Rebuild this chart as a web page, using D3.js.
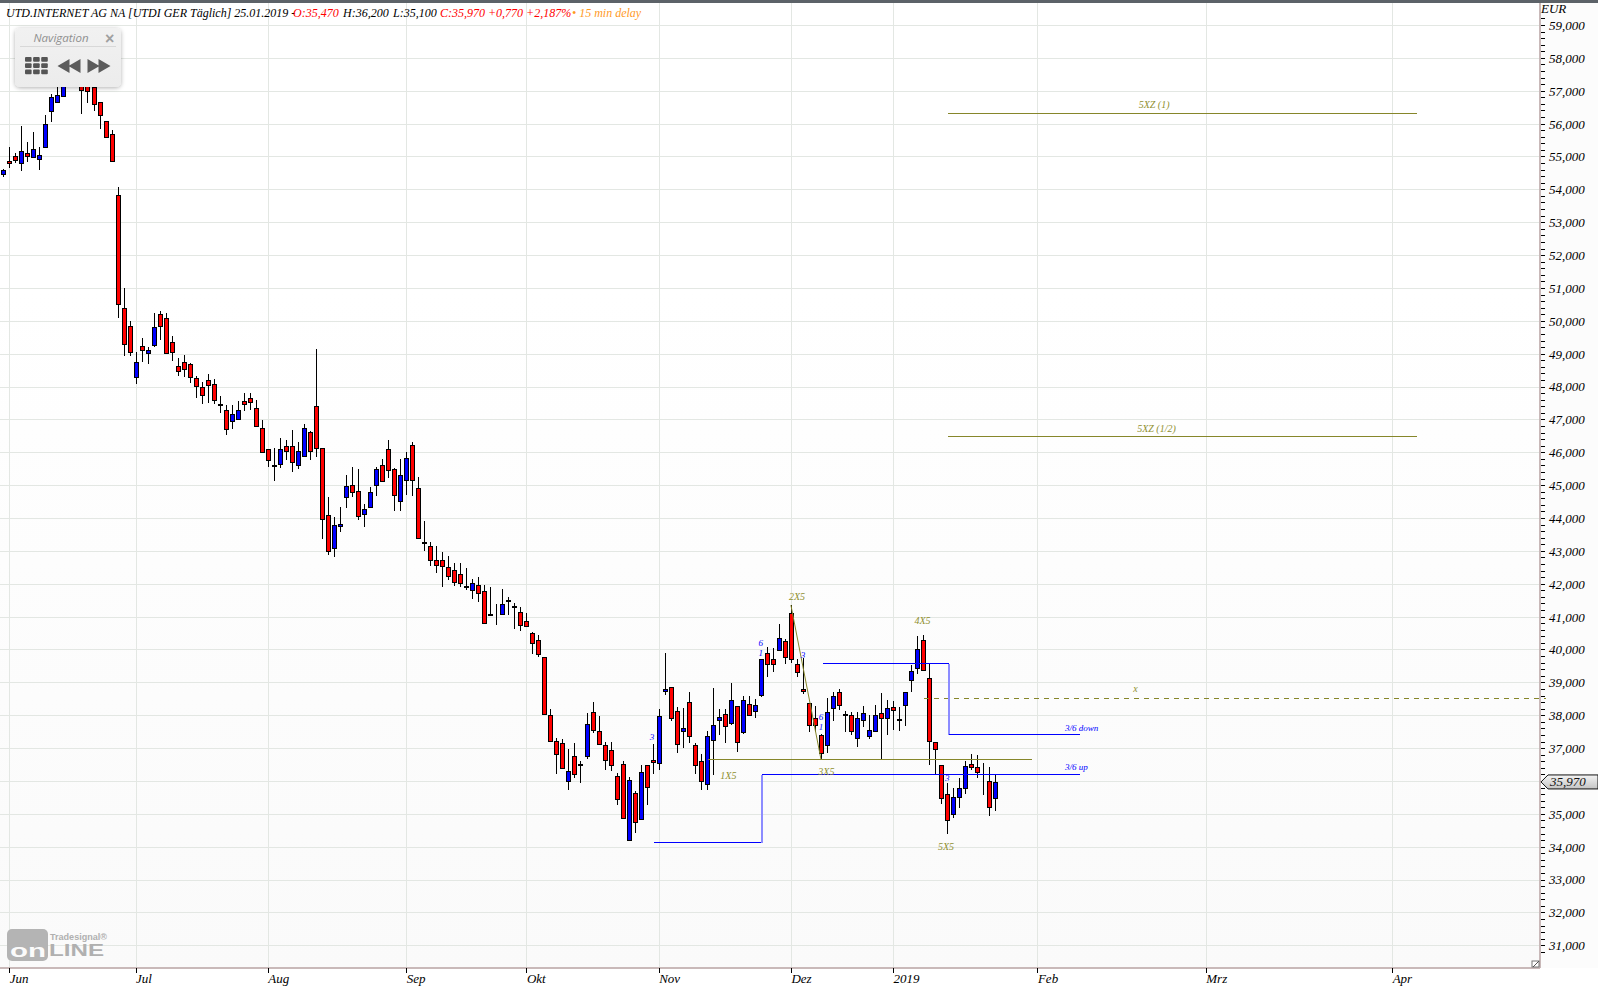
<!DOCTYPE html>
<html><head><meta charset="utf-8">
<script src="https://cdn.jsdelivr.net/npm/d3@7/dist/d3.min.js"></script>
<style>html,body{margin:0;padding:0;background:#fff;overflow:hidden}svg{display:block}
text{font-family:"Liberation Serif",serif;font-style:italic}</style></head><body>
<svg id="c" width="1598" height="990"></svg>
<script>
// ---------- data (prices in EUR, one entry per trading day) ----------
const opens = [54.48,54.87,55.0,54.8,55.11,54.99,54.93,55.29,56.39,56.66,
56.84,57.35,57.9,57.15,57.3,57.1,56.66,56.08,55.69,53.84,
50.4,49.85,48.3,49.24,49.03,49.27,50.22,50.09,49.36,48.63,
48.75,48.69,48.27,47.99,48.21,48.09,47.48,47.29,46.95,47.02,
47.57,47.66,47.36,46.75,46.11,45.6,45.64,46.19,46.19,45.61,
45.89,46.62,47.41,46.13,44.09,43.08,43.75,44.64,45.0,44.82,
44.12,44.33,45.0,45.61,46.1,45.49,44.52,45.16,46.22,44.91,
43.28,43.16,42.73,42.73,42.52,42.43,42.31,41.92,41.82,41.97,
41.79,41.09,41.15,41.09,41.52,41.31,41.15,40.87,40.51,40.29,
39.77,38.0,37.21,37.15,36.0,36.75,36.52,36.75,38.1,37.52,
37.09,36.94,36.14,36.51,34.2,35.62,34.83,36.48,36.63,36.54,
38.73,38.85,38.12,37.51,38.39,37.08,36.6,35.9,37.24,37.85,
38.03,37.75,38.27,37.48,38.33,38.12,38.61,39.89,39.7,39.98,
40.25,41.1,39.55,38.79,38.37,37.91,37.4,37.09,38.21,38.7,
38.03,38.0,37.3,37.85,37.37,37.52,38.06,37.91,38.24,37.88,
38.3,39.06,39.43,40.3,39.12,37.18,36.49,35.61,35.0,35.52,
35.79,36.52,36.43,36.06,36.0,35.47];
const closes = [54.6,54.8,54.9,55.17,55.01,55.23,55.05,55.99,56.81,56.87,
57.4,57.9,57.6,57.02,56.99,56.6,56.25,55.6,54.87,50.52,
49.3,49.06,48.75,49.12,49.12,49.82,49.85,49.03,49.06,48.48,
48.52,48.3,48.03,47.75,48.06,47.6,47.45,46.72,47.17,47.29,
47.48,47.54,46.81,46.02,45.77,45.57,46.1,46.04,45.7,46.04,
46.74,46.04,46.13,43.97,43.0,43.79,43.82,44.97,44.79,44.06,
44.27,44.79,45.49,45.13,45.46,44.7,45.31,45.83,45.16,43.39,
43.25,42.73,42.58,42.55,42.25,42.06,42.03,41.89,42.03,41.73,
40.81,41.06,41.15,41.39,41.49,41.28,40.75,40.72,40.2,39.87,
38.05,37.21,36.81,36.39,36.3,36.2,36.49,37.73,37.55,37.12,
36.63,36.48,35.44,34.86,36.02,34.74,36.26,35.81,36.57,37.99,
38.79,37.91,37.11,37.6,37.36,36.48,35.99,37.36,37.69,37.94,
37.66,38.45,37.2,38.45,38.0,38.3,39.7,39.55,39.55,40.34,
39.76,39.7,39.31,38.73,37.7,37.7,36.85,38.09,38.58,38.3,
38.0,37.52,37.91,38.06,37.55,38.0,37.91,38.21,38.15,37.85,
38.7,39.34,40.0,39.37,37.21,36.97,35.49,34.82,35.52,35.79,
36.46,36.43,36.27,36.05,35.21,35.97];
const highs = [54.62,55.3,55.11,55.94,55.44,55.73,55.3,56.27,56.9,57.1,
57.6,58.1,58.1,57.3,57.45,57.2,56.66,56.08,55.81,54.08,
50.99,50.0,49.06,49.49,49.21,50.23,50.31,50.25,49.55,48.88,
48.97,48.72,48.33,48.15,48.39,48.24,47.72,47.45,47.45,47.57,
47.81,47.81,47.6,46.99,46.11,46.13,46.44,46.37,46.68,46.31,
46.86,46.65,49.13,46.13,44.64,44.03,44.33,45.31,45.56,45.49,
44.42,44.94,45.55,45.8,46.37,45.52,45.8,46.01,46.31,45.25,
43.91,43.28,43.16,42.98,42.83,42.64,42.64,42.49,42.15,42.22,
41.97,41.91,41.39,41.85,41.6,41.42,41.3,41.12,40.54,40.45,
39.77,38.19,37.3,37.27,36.97,37.15,36.6,38.06,38.4,37.97,
37.18,37.18,36.23,36.6,36.11,35.68,36.48,36.48,37.12,38.18,
39.89,38.85,38.24,38.21,38.7,37.15,36.81,37.51,38.83,38.18,
38.18,38.97,38.27,38.58,38.58,38.49,39.7,40.07,40.04,40.77,
40.31,41.35,39.7,39.73,38.37,38.27,37.43,38.52,38.7,38.79,
38.12,38.09,38.09,38.27,38.0,38.3,38.67,38.45,38.43,38.24,
38.7,39.52,40.4,40.43,39.55,37.18,36.49,35.94,35.79,36.09,
36.61,36.82,36.79,36.55,36.43,36.2];
const lows = [54.38,54.65,54.8,54.55,54.83,54.96,54.58,55.29,56.04,56.62,
56.8,57.3,57.4,56.3,56.63,56.38,55.83,55.6,54.87,50.08,
48.93,48.93,48.07,48.74,48.69,49.2,49.41,49.03,48.78,48.32,
48.29,48.1,47.65,47.47,47.5,47.47,47.19,46.52,46.71,47.02,
47.25,47.28,46.81,46.02,45.55,45.12,45.51,45.77,45.39,45.48,
45.89,45.76,45.85,43.35,42.86,42.8,43.56,44.29,44.64,43.93,
43.74,44.33,44.66,45.13,45.21,44.2,44.2,44.69,44.66,43.39,
43.01,42.54,42.33,41.9,42.11,41.93,41.9,41.81,41.53,41.44,
40.81,41.01,40.74,41.09,41.05,40.62,40.56,40.72,39.86,39.76,
38.03,37.21,36.2,36.36,35.71,36.08,35.93,36.66,37.45,37.12,
36.33,36.3,35.26,34.83,34.2,34.43,34.83,35.26,36.2,36.32,
38.61,37.82,36.84,37.0,37.17,36.22,35.74,35.73,36.18,37.39,
37.14,37.69,36.87,37.42,38.0,37.91,38.55,39.15,39.33,39.98,
39.55,39.58,39.15,38.64,37.5,37.5,36.67,36.85,37.82,38.16,
37.48,37.4,37.03,37.64,37.27,37.49,36.67,37.4,37.56,37.53,
37.66,38.7,39.24,39.34,36.48,36.21,35.3,34.4,34.88,35.18,
35.6,36.34,36.09,35.57,34.92,35.1];

const priceTicks = d3.range(300, 597, 2).map(v => v / 10);   // every 0.2 EUR
const monthIndex = [1,22,44,67,87,109,131,148,172,200,231];
const monthLabels = ["Jun","Jul","Aug","Sep","Okt","Nov","Dez","2019","Feb","Mrz","Apr"];

// chart-pattern annotations, [startIndex, endIndex, price]
const levelXZ1  = [157.1, 235.1, 56.31];
const levelXZ12 = [157.1, 235.1, 46.5];
const level1X5  = [117.2, 171.1, 36.66];
const levelX    = [153.1, 256.6, 38.52];
const trend2X5  = [[131, 41.35],[136, 36.66]];
const stepUp    = [[108, 34.15],[126, 34.15],[126, 36.2],[179, 36.2]];
const stepDown  = [[136.2, 39.58],[157.1, 39.58],[157.1, 37.42],[179, 37.42]];
const olivePoints = [["5XZ (1)",191.4,56.46],["5XZ (1/2)",191.8,46.63],["x",188.3,38.72],["1X5",120.6,36.06],
  ["2X5",132,41.5],["3X5",136.9,36.17],["4X5",152.9,40.78],["5X5",156.8,33.9]];
const bluePoints = [["3",107.9,37.26],["6",126,40.1],["1",126,39.8],["3",133,39.74],["6",136,37.85],["1",136,37.56],["3",157,36.0],
  ["3/6 down",176.6,37.53],["3/6 up",176.6,36.32]];
const lastPrice = 35.97;

// ---------- scales ----------
const W = 1598, H = 990, plotR = 1540, plotB = 968;
const x = d3.scaleLinear().domain([0,165]).range([3.33,995.33]);
const y = d3.scaleLinear().domain([59,31]).range([25,945.3]);
const comma = v => d3.format(".3f")(v).replace(".",",");
const OLIVE = "#86862a", BLUE = "#0000ff";

const svg = d3.select("#c");
const defs = svg.append("defs");
const g1 = defs.append("linearGradient").attr("id","bg").attr("x1",0).attr("y1",0).attr("x2",0).attr("y2",1);
g1.append("stop").attr("offset","0.3").attr("stop-color","#ffffff");
g1.append("stop").attr("offset","1").attr("stop-color","#fafafa");
const g2 = defs.append("linearGradient").attr("id","tag").attr("x1",0).attr("y1",0).attr("x2",0).attr("y2",1);
g2.append("stop").attr("offset","0").attr("stop-color","#f4f4f4");
g2.append("stop").attr("offset","1").attr("stop-color","#c4c4c4");
const g3 = defs.append("linearGradient").attr("id","nav").attr("x1",0).attr("y1",0).attr("x2",0).attr("y2",1);
g3.append("stop").attr("offset","0").attr("stop-color","#f1f1f1");
g3.append("stop").attr("offset","1").attr("stop-color","#ececec");
const sh = defs.append("filter").attr("id","sh").attr("x","-20%").attr("y","-20%").attr("width","140%").attr("height","140%");
sh.append("feDropShadow").attr("dx",0).attr("dy",1).attr("stdDeviation",2).attr("flood-color","#000").attr("flood-opacity",0.3);

svg.append("rect").attr("width",W).attr("height",H).attr("fill","#fff");
svg.append("rect").attr("width",plotR).attr("height",plotB).attr("fill","url(#bg)");
svg.append("rect").attr("x",plotR).attr("width",W-plotR).attr("height",plotB).attr("fill","#fcfcfc");

// grid
const px = v => Math.round(v) + 0.5;
const grid = svg.append("g").attr("stroke","#e3e7e3").attr("stroke-width",1).attr("shape-rendering","crispEdges");
grid.selectAll(".h").data(d3.range(31,60)).join("line").attr("x1",0).attr("x2",plotR)
  .attr("y1",d=>px(y(d))).attr("y2",d=>px(y(d)));
grid.selectAll(".v").data(monthIndex).join("line").attr("y1",3).attr("y2",plotB)
  .attr("x1",d=>px(x(d))).attr("x2",d=>px(x(d)));

// logo
const logoFont = "'Liberation Sans',sans-serif";
const logo = svg.append("g").style("font-family",logoFont);
logo.append("rect").attr("x",7).attr("y",929).attr("width",41).attr("height",32).attr("rx",5).attr("fill","#b4b4b4");
logo.append("text").attr("x",50).attr("y",940).attr("fill","#b0b0b0").attr("font-size",8.5).attr("font-weight","bold")
  .style("font-family",logoFont).style("font-style","normal").attr("textLength",57).attr("lengthAdjust","spacingAndGlyphs").text("Tradesignal®");
logo.append("text").attr("x",10).attr("y",957).attr("fill","#fbfbfb").attr("font-size",19).attr("font-weight","bold")
  .style("font-family",logoFont).style("font-style","normal").attr("textLength",36).attr("lengthAdjust","spacingAndGlyphs").text("on");
logo.append("text").attr("x",49).attr("y",956).attr("fill","#b0b0b0").attr("font-size",17).attr("font-weight","bold")
  .style("font-family",logoFont).style("font-style","normal").attr("textLength",55).attr("lengthAdjust","spacingAndGlyphs").text("LINE");

// candles
const n = opens.length, idx = d3.range(n);
const candles = svg.append("g").attr("shape-rendering","crispEdges");
candles.selectAll("line").data(idx).join("line")
  .attr("x1",i=>px(x(i))).attr("x2",i=>px(x(i)))
  .attr("y1",i=>Math.round(y(highs[i]))).attr("y2",i=>Math.round(y(lows[i])))
  .attr("stroke","#000").attr("stroke-width",1);
candles.selectAll("rect").data(idx).join("rect")
  .attr("x",i=>px(x(i))-2).attr("width",4)
  .attr("y",i=>Math.round(y(Math.max(opens[i],closes[i])))+0.5)
  .attr("height",i=>Math.round(y(Math.min(opens[i],closes[i])))-Math.round(y(Math.max(opens[i],closes[i]))))
  .attr("fill",i=>closes[i]>=opens[i]?BLUE:"#ff0000")
  .attr("stroke","#000").attr("stroke-width",1);

// levels
function hline(a,col,extra){
  const l = svg.append("line").attr("x1",x(a[0])).attr("x2",x(a[1])).attr("y1",px(y(a[2]))).attr("y2",px(y(a[2])))
   .attr("stroke",col).attr("stroke-width",1).attr("shape-rendering","crispEdges");
  if(extra) l.attr("stroke-dasharray",extra);
}
hline(levelXZ1,OLIVE); hline(levelXZ12,OLIVE); hline(level1X5,OLIVE); hline(levelX,OLIVE,"5,5");
const ln = d3.line().x(d=>x(d[0])).y(d=>y(d[1]));
svg.append("path").attr("d",ln(trend2X5)).attr("fill","none").attr("stroke",OLIVE).attr("stroke-width",1);
function step(pts){
  for(let k=0;k<3;k++){
    const a=pts[k],b=pts[k+1],vert=a[0]===b[0];
    svg.append("line").attr("x1",px(x(a[0]))).attr("x2",px(x(b[0]))).attr("y1",px(y(a[1]))).attr("y2",px(y(b[1])))
      .attr("stroke",vert?"#8c8cff":BLUE).attr("stroke-width",vert?2:1).attr("shape-rendering","crispEdges");
  }
}
step(stepUp); step(stepDown);

// annotation labels
svg.append("g").selectAll("text").data(olivePoints).join("text")
  .attr("x",d=>x(d[1])).attr("y",d=>y(d[2])).attr("text-anchor","middle")
  .attr("fill","#8f8f2e").attr("font-size",10).text(d=>d[0]);
svg.append("g").selectAll("text").data(bluePoints).join("text")
  .attr("x",d=>x(d[1])).attr("y",d=>y(d[2])).attr("text-anchor",d=>d[0].length>1?"start":"middle")
  .attr("fill",BLUE).attr("font-size",9).text(d=>d[0]);

// frame
svg.append("rect").attr("width",W).attr("height",3).attr("fill","#5c6268");
svg.append("line").attr("x1",plotR).attr("x2",plotR).attr("y1",3).attr("y2",plotB).attr("stroke","#c9b9b9").attr("stroke-width",2).attr("shape-rendering","crispEdges");
svg.append("line").attr("x1",0).attr("x2",plotR).attr("y1",plotB).attr("y2",plotB).attr("stroke","#c9b9b9").attr("stroke-width",2).attr("shape-rendering","crispEdges");

// y axis
const yAxis = d3.axisRight(y).tickValues(priceTicks).tickSize(4).tickPadding(5)
  .tickFormat(v => Math.abs(v-Math.round(v))<1e-6 ? comma(v) : "");
const ya = svg.append("g").attr("transform",`translate(${plotR+1},0)`).call(yAxis);
ya.select(".domain").remove();
ya.selectAll("line").attr("stroke","#000").attr("shape-rendering","crispEdges");
ya.selectAll("text").attr("fill","#000").attr("font-size",13).attr("x",8).attr("dy","0.34em");
ya.selectAll(".tick").filter(d=>d<30.7||d>59.25).remove();
svg.append("text").attr("x",1541).attr("y",13).attr("font-size",13).attr("fill","#000").text("EUR");

// x axis
const xAxis = d3.axisBottom(x).tickValues(monthIndex).tickSize(5).tickPadding(0)
  .tickFormat((d,i)=>monthLabels[i]);
const xa = svg.append("g").attr("transform",`translate(0,${plotB})`).call(xAxis);
xa.select(".domain").remove();
xa.selectAll("line").attr("stroke","#000").attr("shape-rendering","crispEdges");
xa.selectAll("text").attr("fill","#000").attr("font-size",13).attr("text-anchor","start").attr("y",6).attr("dy","0.71em");

// resize corner
svg.append("rect").attr("x",1532).attr("y",961).attr("width",7).attr("height",6).attr("fill","#fff").attr("stroke","#777");
svg.append("line").attr("x1",1533).attr("y1",967).attr("x2",1539).attr("y2",961).attr("stroke","#555");

// last price tag
const ly = y(lastPrice);
svg.append("path").attr("d",`M1541,${ly} L1548,${ly-7} H1598 V${ly+7} H1548 Z`).attr("fill","url(#tag)").attr("stroke","#111").attr("stroke-width",1);
svg.append("text").attr("x",1550).attr("y",ly+4.5).attr("font-size",13).attr("fill","#111").text(comma(lastPrice));

// header
const seg = [["UTD.INTERNET AG NA [UTDI GER Täglich] 25.01.2019 -",6,"#000"],
 ["O:35,470",293,"#ff0000"],["H:36,200",343,"#000"],["L:35,100",393,"#000"],
 ["C:35,970 +0,770 +2,187%",440,"#ff0000"],["• 15 min delay",572,"#ff9a1f"]];
svg.append("text").attr("y",17).attr("font-size",12).selectAll("tspan").data(seg).join("tspan")
  .attr("x",d=>d[1]).attr("fill",d=>d[2]).text(d=>d[0]);

// navigation panel
const nav = svg.append("g");
nav.append("rect").attr("x",15).attr("y",28).attr("width",106).attr("height",59).attr("rx",5).attr("fill","url(#nav)").attr("filter","url(#sh)");
nav.append("text").attr("x",33.5).attr("y",42).attr("fill","#8f8f8f").attr("font-size",11.5)
  .style("font-family","'Open Sans',sans-serif").text("Navigation");
nav.append("text").attr("x",105).attr("y",43.5).attr("fill","#a0a0a0").attr("font-size",16).attr("font-weight","bold")
  .style("font-family","'Liberation Sans',sans-serif").style("font-style","normal").text("×");
nav.append("line").attr("x1",20).attr("x2",116).attr("y1",46.5).attr("y2",46.5).attr("stroke","#d8d8d8");
const gridIcon = nav.append("g").attr("fill","#555");
d3.range(3).forEach(r=>d3.range(3).forEach(c=>{
  gridIcon.append("rect").attr("x",25+c*8.1).attr("y",57+r*6.2).attr("width",6.6).attr("height",4.8).attr("rx",1);
}));
const iconPath = (a,dir)=>`M${a},66 l${dir*12},-7 v14 z M${a+dir*11},66 l${dir*12},-7 v14 z`;
nav.append("path").attr("d",iconPath(57.5,1)).attr("fill","#5c5c5c");
nav.append("path").attr("d",iconPath(110.5,-1)).attr("fill","#5c5c5c");
</script></body></html>
